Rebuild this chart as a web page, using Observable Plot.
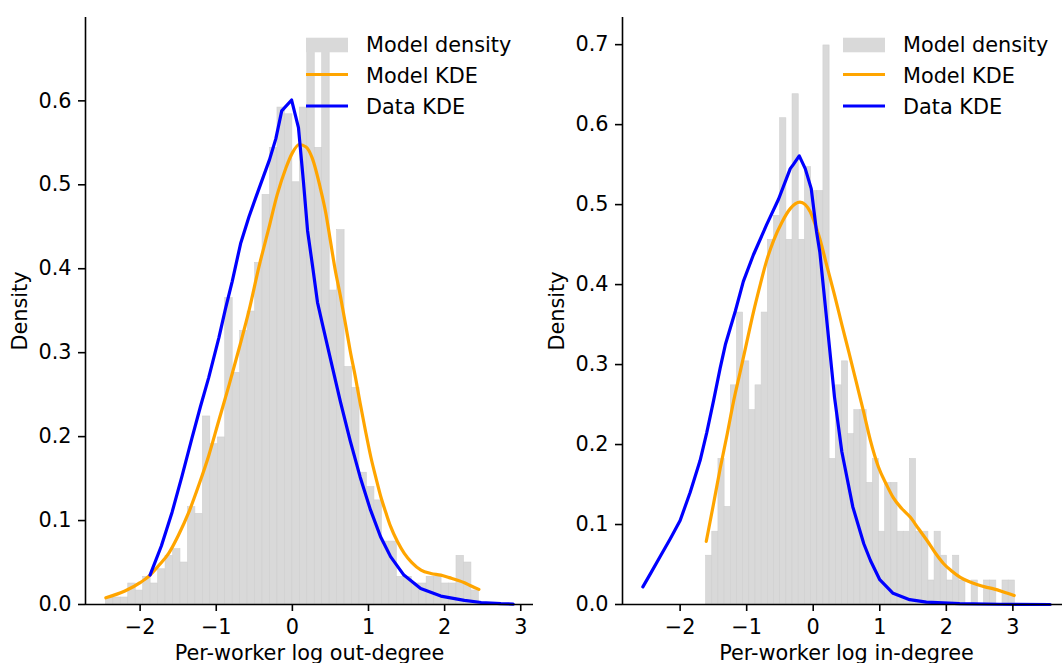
<!DOCTYPE html>
<html><head><meta charset="utf-8">
<script src="https://cdn.jsdelivr.net/npm/d3@7"></script>
<script src="https://cdn.jsdelivr.net/npm/@observablehq/plot@0.6"></script>
<style>
html,body{margin:0;padding:0;background:#fff;overflow:hidden;}
#wrap{position:relative;width:1062px;height:663px;overflow:hidden;font-family:"DejaVu Sans",sans-serif;}
#wrap > svg{position:absolute;top:0;}
</style></head><body><div id="wrap"></div>
<script>
// ---------- data ----------
const xTicks = [-2, -1, 0, 1, 2, 3];
const outYTicks = [0, 0.1, 0.2, 0.3, 0.4, 0.5, 0.6];
const inYTicks = [0, 0.1, 0.2, 0.3, 0.4, 0.5, 0.6, 0.7];
const legendLabels = ["Model density", "Model KDE", "Data KDE"];
const xLabels = ["Per-worker log out-degree", "Per-worker log in-degree"];
const yLabel = "Density";

// out-degree panel: model histogram (50 bins over range)
const outHistRange = [-2.45, 2.45];
const outHistDensity = [0.0083,0.0083,0.0083,0.025,0.0166,0.033,0.025,0.042,0.058,0.066,
  0.050,0.116,0.108,0.224,0.191,0.199,0.365,0.276,0.326,0.349,
  0.407,0.488,0.544,0.592,0.584,0.503,0.592,0.666,0.544,0.658,
  0.374,0.446,0.283,0.258,0.157,0.140,0.124,0.075,0.075,0.033,
  0.033,0.025,0.025,0.033,0.033,0.025,0.025,0.058,0.050,0.0166];
const outModelKdeX = [-2.45,-2.2,-2.0,-1.87,-1.75,-1.625,-1.5,-1.36,-1.23,-1.1,-0.97,-0.83,-0.7,-0.57,-0.44,-0.31,-0.2,-0.085,0.0,0.09,0.18,0.26,0.365,0.44,0.5,0.56,0.63,0.7,0.76,0.83,0.89,0.96,1.03,1.1,1.16,1.23,1.29,1.38,1.47,1.57,1.69,1.82,1.95,2.06,2.17,2.26,2.35,2.45];
const outModelKdeY = [0.008,0.016,0.026,0.035,0.047,0.061,0.082,0.110,0.142,0.177,0.218,0.262,0.305,0.350,0.402,0.448,0.488,0.520,0.538,0.548,0.545,0.532,0.497,0.466,0.433,0.400,0.368,0.333,0.302,0.270,0.240,0.207,0.176,0.150,0.129,0.109,0.093,0.075,0.061,0.050,0.041,0.037,0.035,0.032,0.029,0.026,0.022,0.018];
const outDataKdeX = [-1.87,-1.72,-1.58,-1.45,-1.32,-1.21,-1.1,-0.965,-0.88,-0.79,-0.68,-0.57,-0.48,-0.38,-0.3,-0.217,-0.14,-0.01,0.08,0.145,0.2,0.27,0.33,0.397,0.507,0.63,0.76,0.89,1.025,1.157,1.29,1.465,1.685,1.95,2.26,2.48,2.74,2.9];
const outDataKdeY = [0.035,0.070,0.110,0.153,0.198,0.235,0.270,0.318,0.352,0.385,0.430,0.462,0.485,0.510,0.530,0.555,0.588,0.601,0.568,0.504,0.445,0.400,0.360,0.333,0.290,0.242,0.195,0.152,0.113,0.081,0.057,0.035,0.019,0.010,0.005,0.0024,0.001,0.0005];

// in-degree panel
const inHistRange = [-1.61, 3.03];
const inHistDensity = [0.061,0.091,0.182,0.122,0.274,0.365,0.304,0.243,0.274,0.365,
  0.456,0.486,0.608,0.456,0.638,0.456,0.547,0.517,0.517,0.699,
  0.182,0.274,0.304,0.213,0.243,0.243,0.152,0.182,0.091,0.152,
  0.152,0.091,0.091,0.182,0.091,0.091,0.030,0.091,0.061,0.030,
  0.061,0.030,0,0.030,0,0.030,0.030,0,0.030,0.030];
const inModelKdeX = [-1.607,-1.5,-1.396,-1.3,-1.197,-1.1,-0.996,-0.9,-0.796,-0.7,-0.596,-0.47,-0.345,-0.2,-0.12,-0.045,0.05,0.1,0.2,0.32,0.43,0.54,0.65,0.76,0.86,0.98,1.1,1.2,1.33,1.46,1.58,1.71,1.83,1.96,2.08,2.21,2.33,2.46,2.58,2.71,2.85,3.02];
const inModelKdeY = [0.079,0.125,0.171,0.210,0.254,0.290,0.329,0.365,0.400,0.430,0.455,0.478,0.495,0.503,0.500,0.491,0.470,0.457,0.425,0.387,0.350,0.314,0.277,0.240,0.205,0.172,0.150,0.134,0.120,0.109,0.095,0.080,0.065,0.051,0.042,0.034,0.029,0.025,0.022,0.0195,0.016,0.0112];
const inDataKdeX = [-2.56,-2.45,-2.3,-2.15,-2.0,-1.85,-1.7,-1.6,-1.5,-1.4,-1.32,-1.17,-1.05,-0.9,-0.7,-0.52,-0.345,-0.3,-0.21,-0.12,-0.03,0.05,0.1,0.21,0.32,0.43,0.595,0.76,0.86,1.0,1.2,1.45,1.7,2.2,2.8,3.56];
const inDataKdeY = [0.022,0.038,0.060,0.082,0.105,0.140,0.180,0.215,0.254,0.295,0.325,0.367,0.404,0.437,0.475,0.507,0.545,0.550,0.561,0.545,0.520,0.466,0.440,0.350,0.259,0.191,0.122,0.076,0.055,0.031,0.014,0.006,0.003,0.001,0.0003,0.0];

// ---------- drawing ----------
const FONT = "DejaVu Sans";
const FS = 20.8;
const fmtX = d => d < 0 ? "\u2212" + Math.abs(d) : String(d);
const fmtY = d3.format(".1f");
const zip = (xs, ys) => xs.map((x, i) => ({x, y: ys[i]}));

function panel({hist, range, modelX, modelY, dataX, dataY, yTicks, xLabel, width, marginLeft, marginRight}) {
  const n = hist.length, w = (range[1] - range[0]) / n;
  const bins = hist.map((d, i) => ({x1: range[0] + i * w, x2: range[0] + (i + 1) * w, y: d}));
  const allX = [range[0], range[1], ...modelX, ...dataX];
  const xmin = d3.min(allX), xmax = d3.max(allX), pad = 0.05 * (xmax - xmin);
  const ymax = d3.max([...hist, ...modelY, ...dataY]) * 1.05;
  return Plot.plot({
    width, height: 663, marginLeft, marginRight, marginTop: 17, marginBottom: 59,
    style: {fontFamily: FONT, fontSize: FS + "px", background: "transparent", color: "#000", overflow: "visible"},
    x: {domain: [xmin - pad, xmax + pad]},
    y: {domain: [0, ymax]},
    marks: [
      Plot.rectY(bins, {x1: "x1", x2: "x2", y: "y", fill: "#d9d9d9", stroke: "#cfcfcf", strokeWidth: 0.6}),
      Plot.line(zip(modelX, modelY), {x: "x", y: "y", stroke: "#ffa500", strokeWidth: 3.2, curve: "monotone-x"}),
      Plot.line(zip(dataX, dataY), {x: "x", y: "y", stroke: "#0000ff", strokeWidth: 3.2, curve: "linear"}),
      Plot.ruleY([0], {stroke: "#000", strokeWidth: 1.6}),
      Plot.ruleX([xmin - pad], {stroke: "#000", strokeWidth: 1.6}),
      Plot.axisX({ticks: xTicks, tickFormat: fmtX, tickSize: 7, tickPadding: 8, strokeWidth: 1.6,
        label: xLabel, labelAnchor: "center", labelArrow: "none", labelOffset: 55}),
      Plot.axisY({ticks: yTicks, tickFormat: fmtY, tickSize: 7, tickPadding: 7, strokeWidth: 1.6,
        label: yLabel, labelAnchor: "center", labelArrow: "none", labelOffset: 73})
    ]
  });
}

const wrap = document.getElementById("wrap");
const left = panel({hist: outHistDensity, range: outHistRange, modelX: outModelKdeX, modelY: outModelKdeY,
  dataX: outDataKdeX, dataY: outDataKdeY, yTicks: outYTicks, xLabel: xLabels[0], width: 540, marginLeft: 85, marginRight: 7});
left.style.left = "0px";
wrap.appendChild(left);
const right = panel({hist: inHistDensity, range: inHistRange, modelX: inModelKdeX, modelY: inModelKdeY,
  dataX: inDataKdeX, dataY: inDataKdeY, yTicks: inYTicks, xLabel: xLabels[1], width: 530, marginLeft: 82, marginRight: 0});
right.style.left = "540px";
wrap.appendChild(right);

// legends (upper right of each axes)
function legend(frameRight) {
  const svg = d3.create("svg").attr("width", 1062).attr("height", 663)
    .style("left", "0px").style("pointer-events", "none");
  const hx = frameRight - 227, hw = 42, tx = frameRight - 167;
  const rows = [45, 75.5, 107];
  svg.append("rect").attr("x", hx).attr("y", rows[0] - 7.3).attr("width", hw).attr("height", 14.6).attr("fill", "#d9d9d9");
  svg.append("line").attr("x1", hx).attr("x2", hx + hw).attr("y1", rows[1] - 1).attr("y2", rows[1] - 1)
    .attr("stroke", "#ffa500").attr("stroke-width", 3.2);
  svg.append("line").attr("x1", hx).attr("x2", hx + hw).attr("y1", rows[2] - 1).attr("y2", rows[2] - 1)
    .attr("stroke", "#0000ff").attr("stroke-width", 3.2);
  legendLabels.forEach((t, i) => {
    svg.append("text").attr("x", tx).attr("y", rows[i]).attr("dy", "0.35em")
      .attr("font-family", FONT).attr("font-size", FS).attr("fill", "#000").text(t);
  });
  return svg.node();
}
wrap.appendChild(legend(533));
wrap.appendChild(legend(1070));
</script></body></html>
